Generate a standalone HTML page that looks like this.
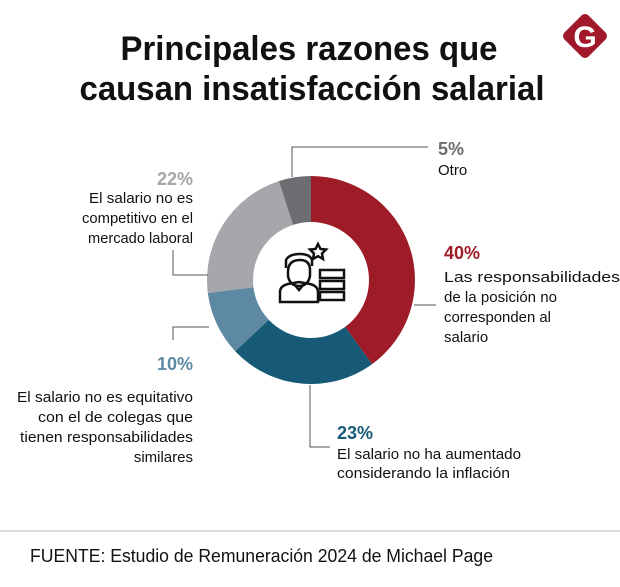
<!DOCTYPE html>
<html><head><meta charset="utf-8"><style>
html,body{margin:0;padding:0;background:#fff;}
svg{display:block;font-family:"Liberation Sans Narrow","Liberation Sans",sans-serif;}
</style></head><body>
<svg id="c" width="620" height="587" viewBox="0 0 620 587">
<g font-weight="bold" font-size="34" fill="#111" text-anchor="middle">
<text x="309" y="60" textLength="377" lengthAdjust="spacingAndGlyphs">Principales razones que</text>
<text x="312" y="100" textLength="465" lengthAdjust="spacingAndGlyphs">causan insatisfacción salarial</text>
</g>
<g>
<rect x="568" y="19" width="34" height="34" rx="5" fill="#a0182a" transform="rotate(45 585 36)"/>
<text x="585" y="47" text-anchor="middle" font-family="Liberation Sans" font-weight="bold" font-size="30" fill="#fff">G</text>
</g>
<g id="slices"></g>
<g fill="none" stroke="#111" stroke-width="2.5">
<path d="M288 272 q0-12 12-12 q10 0 10 10 l0 6 q-2 10-11 10 q-9 0-11-10z"/>
<path d="M286 268 l0-8 q3-6 14-6 q10 0 12 6 l0 6"/>
<path d="M280 302 l0-10 q0-6 8-8 l11 -2 l11 2 q8 2 8 8 l0 10z"/>
<path d="M294 284 l5 6 l5-6"/>
<rect x="320" y="270" width="24" height="8"/><rect x="320" y="281" width="24" height="8"/><rect x="320" y="292" width="24" height="8"/>
<path d="M318 244 l2.5 5 5.5 .5 -4 4 1 5.5 -5-2.8 -5 2.8 1-5.5 -4-4 5.5-.5z"/>
</g>
<g stroke="#555" stroke-width="1" fill="none">
<polyline points="292,177 292,147 428,147"/>
<polyline points="414,305 436,305"/>
<polyline points="310,385 310,447 330,447"/>
<polyline points="209,327 173,327 173,340"/>
<polyline points="208,275 173,275 173,250"/>
</g>
<g>
<text x="438" y="155" font-size="18" font-weight="bold" fill="#6d6e71">5%</text>
<text x="438" y="175" font-size="15" fill="#111">Otro</text>
</g>
<g font-size="15" fill="#111">
<text x="444" y="259" font-size="18" font-weight="bold" fill="#9e1c27">40%</text>
<text x="444" y="282" textLength="176" lengthAdjust="spacingAndGlyphs">Las responsabilidades</text>
<text x="444" y="302" textLength="113" lengthAdjust="spacingAndGlyphs">de la posición no</text>
<text x="444" y="322" textLength="107" lengthAdjust="spacingAndGlyphs">corresponden al</text>
<text x="444" y="342">salario</text>
</g>
<g font-size="15" fill="#111">
<text x="337" y="439" font-size="18" font-weight="bold" fill="#175a78">23%</text>
<text x="337" y="459" textLength="184" lengthAdjust="spacingAndGlyphs">El salario no ha aumentado</text>
<text x="337" y="478" textLength="173" lengthAdjust="spacingAndGlyphs">considerando la inflación</text>
</g>
<g font-size="15" fill="#111" text-anchor="end">
<text x="193" y="370" font-size="18" font-weight="bold" fill="#5e89a3">10%</text>
<text x="193" y="402" textLength="176" lengthAdjust="spacingAndGlyphs">El salario no es equitativo</text>
<text x="193" y="422" textLength="155" lengthAdjust="spacingAndGlyphs">con el de colegas que</text>
<text x="193" y="442" textLength="173" lengthAdjust="spacingAndGlyphs">tienen responsabilidades</text>
<text x="193" y="462">similares</text>
</g>
<g font-size="15" fill="#111" text-anchor="end">
<text x="193" y="185" font-size="18" font-weight="bold" fill="#a6a7ab">22%</text>
<text x="193" y="203" textLength="104" lengthAdjust="spacingAndGlyphs">El salario no es</text>
<text x="193" y="223" textLength="111" lengthAdjust="spacingAndGlyphs">competitivo en el</text>
<text x="193" y="243" textLength="105" lengthAdjust="spacingAndGlyphs">mercado laboral</text>
</g>
<line x1="0" y1="531" x2="620" y2="531" stroke="#ddd" stroke-width="2"/>
<text x="30" y="562" font-size="18" fill="#111" textLength="463" lengthAdjust="spacingAndGlyphs">FUENTE: Estudio de Remuneración 2024 de Michael Page</text>
</svg>
<script>
const categories = ["Responsabilidades", "Inflación", "Equitativo", "Competitivo", "Otro"];
const values = [40, 23, 10, 22, 5];
const colors = ["#9e1c27", "#175a78", "#5e89a3", "#a6a7ab", "#6d6e71"];
const cx = 311, cy = 280, R = 104, r = 58;
const g = document.getElementById('slices');
const total = values.reduce((a, b) => a + b, 0);
function pt(rad, a) { return [cx + rad * Math.sin(a), cy - rad * Math.cos(a)]; }
let acc = 0;
values.forEach((v, i) => {
  const a0 = acc / total * 2 * Math.PI;
  acc += v;
  const a1 = acc / total * 2 * Math.PI;
  const large = (a1 - a0) > Math.PI ? 1 : 0;
  const [x0, y0] = pt(R, a0), [x1, y1] = pt(R, a1), [x2, y2] = pt(r, a1), [x3, y3] = pt(r, a0);
  const p = document.createElementNS('http://www.w3.org/2000/svg', 'path');
  p.setAttribute('d', `M${x0} ${y0} A${R} ${R} 0 ${large} 1 ${x1} ${y1} L${x2} ${y2} A${r} ${r} 0 ${large} 0 ${x3} ${y3}Z`);
  p.setAttribute('fill', colors[i]);
  
  
  g.appendChild(p);
});
</script>
</body></html>
